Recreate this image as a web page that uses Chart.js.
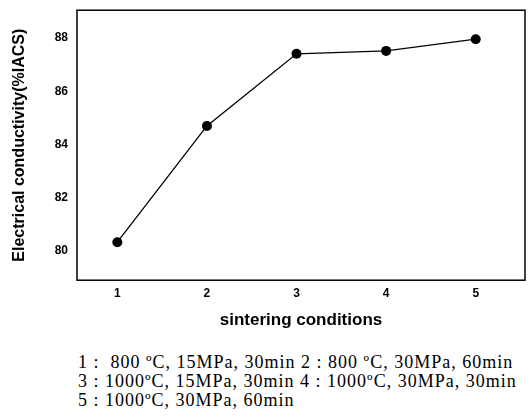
<!DOCTYPE html>
<html>
<head>
<meta charset="utf-8">
<script src="https://cdn.jsdelivr.net/npm/chart.js@4"></script>
<style>
  body { margin: 0; background: #fff; }
  #wrap { position: relative; width: 530px; height: 418px; }
  #graph { position: absolute; left: 0; top: 0; }
  .cap { position: absolute; left: 78px; font-family: "Liberation Serif", serif; font-size: 18px; letter-spacing: 1px; line-height: 18px; color: #000; white-space: nowrap; }
</style>
</head>
<body>
<div id="wrap">
  <canvas id="graph" width="530" height="331"></canvas>
  <div class="cap" style="top:353px">1 :&nbsp; 800 ºC, 15MPa, 30min 2 : 800 ºC, 30MPa, 60min</div>
  <div class="cap" style="top:372px">3 : 1000ºC, 15MPa, 30min 4 : 1000ºC, 30MPa, 30min</div>
  <div class="cap" style="top:391px">5 : 1000ºC, 30MPa, 60min</div>
</div>
<script>
// data
const conditions = [1, 2, 3, 4, 5];
const conductivity = [80.33, 84.70, 87.41, 87.52, 87.96];
const yTicks = [80, 82, 84, 86, 88];

const ctx = document.getElementById('graph');

// frame around the plot area
const frame = {
  id: 'frame',
  afterDraw(chart) {
    const a = chart.chartArea;
    const c = chart.ctx;
    c.save();
    c.strokeStyle = '#000';
    c.lineWidth = 1.5;
    c.strokeRect(a.left, a.top, a.right - a.left, a.bottom - a.top);
    c.restore();
  }
};

const tickFont = { family: 'Liberation Sans', size: 12, weight: 'bold' };
const titleFont = { family: 'Liberation Sans', size: 16, weight: 'bold' };

new Chart(ctx, {
  type: 'line',
  data: {
    datasets: [{
      data: conditions.map((c, i) => ({ x: c, y: conductivity[i] })),
      borderColor: '#000',
      borderWidth: 1.3,
      backgroundColor: '#000',
      pointRadius: 5,
      pointBackgroundColor: '#000',
      pointBorderWidth: 0,
      tension: 0
    }]
  },
  options: {
    responsive: false,
    animation: false,
    layout: { padding: { top: 7, right: 3, left: 0, bottom: 0 } },
    plugins: { legend: { display: false }, tooltip: { enabled: false } },
    scales: {
      x: {
        type: 'linear',
        min: 0.55,
        max: 5.55,
        afterBuildTicks: s => { s.ticks = conditions.map(v => ({ value: v })); },
        grid: { display: false, drawTicks: true, tickLength: 5, tickColor: '#000' },
        border: { display: false },
        ticks: { color: '#000', font: tickFont, padding: 1 },
        title: { display: true, text: 'sintering conditions', color: '#000', font: { family: 'Liberation Sans', size: 17, weight: 'bold' }, padding: { top: 9, bottom: 0 } }
      },
      y: {
        min: 78.9,
        max: 89.05,
        afterBuildTicks: s => { s.ticks = yTicks.map(v => ({ value: v })); },
        afterFit: s => { s.width = 77; },
        grid: { display: false, drawTicks: true, tickLength: 6, tickColor: '#000' },
        border: { display: false },
        ticks: { color: '#000', font: tickFont, padding: 3 },
        title: { display: true, text: 'Electrical conductivity(%IACS)', color: '#000', font: titleFont, padding: { top: 10, bottom: 0 } }
      }
    }
  },
  plugins: [frame]
});
</script>
</body>
</html>
